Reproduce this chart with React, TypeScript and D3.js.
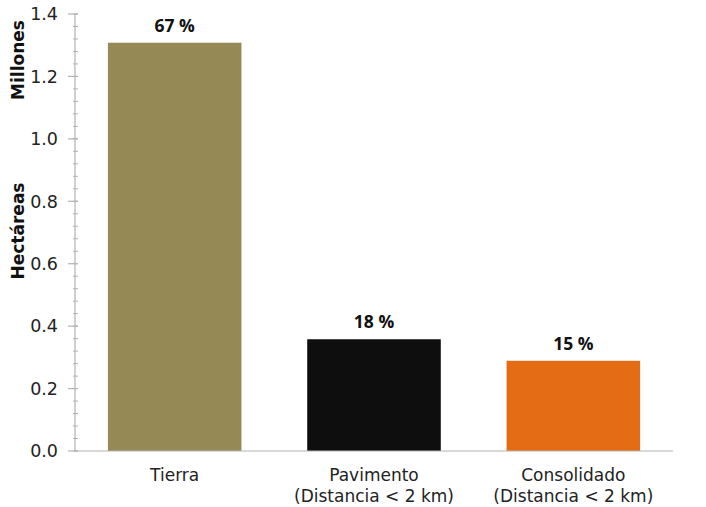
import React from "react";
import * as d3 from "d3";

const categories: string[][] = [["Tierra"], ["Pavimento", "(Distancia < 2 km)"], ["Consolidado", "(Distancia < 2 km)"]];
const values: number[] = [1.308, 0.358, 0.289];
const percentLabels: string[] = ["67 %", "18 %", "15 %"];
const barColors: string[] = ["#958a56", "#0e0e0e", "#e36c14"];
const yTicks: number[] = [0, 0.2, 0.4, 0.6, 0.8, 1.0, 1.2, 1.4];

const W = 706;
const H = 507;
const margin = { left: 75, right: 33, top: 14, bottom: 56 };

export default function App() {
  const x = d3
    .scaleBand<number>()
    .domain(categories.map((_, i) => i))
    .range([margin.left, W - margin.right])
    .paddingInner(0.33)
    .paddingOuter(0.165);
  const y = d3.scaleLinear().domain([0, 1.4]).range([H - margin.bottom, margin.top]);
  const minor = d3.range(0, 1.4 + 1e-9, 0.04).map((v) => +v.toFixed(2));
  const axisColor = "#b3b3b3";
  const tickFont = "'DejaVu Sans', Verdana, sans-serif";

  return (
    <svg
      width={W}
      height={H}
      style={{ position: "absolute", left: 0, top: 0, background: "#fff" }}
    >
      {values.map((v, i) => (
        <rect
          key={i}
          x={x(i)!}
          y={y(v)}
          width={x.bandwidth()}
          height={y(0) - y(v)}
          fill={barColors[i]}
        />
      ))}
      {values.map((v, i) => (
        <text
          key={i}
          x={x(i)! + x.bandwidth() / 2}
          y={y(v) - 11}
          textAnchor="middle"
          fontFamily="'Open Sans', sans-serif"
          fontWeight="bold"
          fontSize={17.5}
          fill="#111"
        >
          {percentLabels[i]}
        </text>
      ))}
      <line x1={margin.left} x2={margin.left} y1={y(0)} y2={y(1.4)} stroke={axisColor} strokeWidth={1.2} />
      {minor.map((v, i) => (
        <line key={i} x1={margin.left - 2} x2={margin.left + 3} y1={y(v)} y2={y(v)} stroke={axisColor} strokeWidth={1} />
      ))}
      {yTicks.map((t, i) => (
        <g key={i}>
          <line x1={margin.left - 7} x2={margin.left + 3} y1={y(t)} y2={y(t)} stroke={axisColor} strokeWidth={1.2} />
          <text
            x={58}
            y={y(t)}
            dy="0.36em"
            textAnchor="end"
            fontFamily={tickFont}
            fontSize={17.5}
            fill="#222"
          >
            {t.toFixed(1)}
          </text>
        </g>
      ))}
      <line x1={margin.left} x2={W - margin.right} y1={y(0)} y2={y(0)} stroke={axisColor} strokeWidth={1.2} />
      {categories.map((lines, i) => (
        <text
          key={i}
          x={x(i)! + x.bandwidth() / 2}
          y={481}
          textAnchor="middle"
          fontFamily={tickFont}
          fontSize={17}
          fill="#222"
        >
          {lines.map((l, j) => (
            <tspan key={j} x={x(i)! + x.bandwidth() / 2} dy={j === 0 ? 0 : 21}>
              {l}
            </tspan>
          ))}
        </text>
      ))}
      <text
        transform={`translate(24,60) rotate(-90)`}
        textAnchor="middle"
        fontFamily={tickFont}
        fontWeight="bold"
        fontSize={17}
        fill="#111"
      >
        Millones
      </text>
      <text
        transform={`translate(24,231) rotate(-90)`}
        textAnchor="middle"
        fontFamily={tickFont}
        fontWeight="bold"
        fontSize={17}
        fill="#111"
      >
        Hectáreas
      </text>
    </svg>
  );
}
